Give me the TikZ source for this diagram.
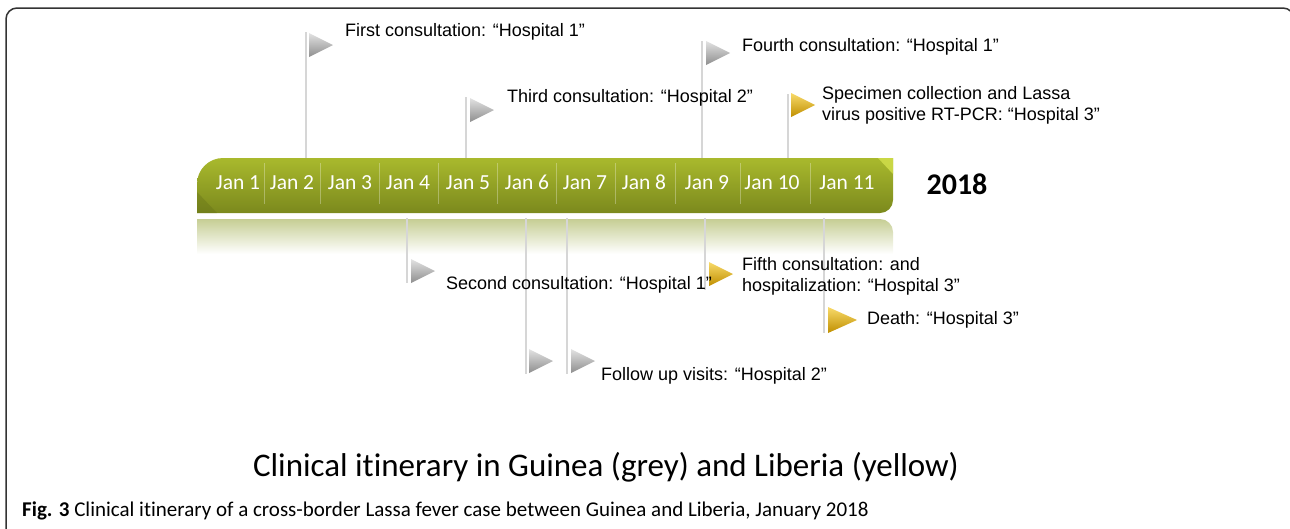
\documentclass[tikz,border=0pt]{standalone}
\usepackage{fontspec}
\setmainfont{Liberation Sans}
\newfontfamily\carlito[RawFeature={-liga,-clig,-dlig}]{Carlito}
\definecolor{bartop}{HTML}{A9B92D}
\definecolor{barbot}{HTML}{7B891D}
\definecolor{barhi}{HTML}{D3E04C}
\definecolor{reftop}{HTML}{C6CE94}
\definecolor{polec}{HTML}{D6D6D6}
\definecolor{greyL}{HTML}{E2E2E2}
\definecolor{greyD}{HTML}{8E8E8E}
\definecolor{yelL}{HTML}{F8DA6A}
\definecolor{yelD}{HTML}{C08F00}
\definecolor{framec}{HTML}{333333}
\tikzset{
  pole/.style={draw=polec, line width=1.4pt},
  lbl/.style={anchor=west, inner sep=0pt, font=\fontsize{18}{21}\selectfont, align=left},
  janlbl/.style={text=white, inner sep=0pt, anchor=base, font=\carlito\fontsize{21.5}{25}\selectfont},
  greyflag/.style={top color=greyL, bottom color=greyD},
  yelflag/.style={top color=yelL, bottom color=yelD},
  divider/.style={draw=white, opacity=0.3, line width=0.8pt}
}
\newcommand{\myflag}[3]{\shade[#3] ({#1},{#2}) -- ({#1+24},{#2+12}) -- ({#1},{#2+24}) -- cycle;}
\begin{document}
\begin{tikzpicture}[x=1pt,y=-1pt]
\useasboundingbox (0,0) rectangle (1290,528);
% frame
\draw[framec, line width=1.5pt, rounded corners=11pt] (6,570) -- (6,8) -- (1294,8) -- (1294,570);
% reflection
\shade[top color=reftop, bottom color=white] (197,219) -- (880,219) arc[start angle=-90,end angle=0,radius=13] -- (893,254) -- (197,254) -- cycle;
% bar
\shade[top color=bartop, bottom color=barbot] (197,213) -- (197,184) arc[start angle=180,end angle=270,radius=26] -- (893,158) -- (893,200) arc[start angle=0,end angle=90,radius=13] -- cycle;
\fill[barhi, opacity=0.8] (878,158) -- (893,158) -- (893,174) -- cycle;
\fill[barbot!80!black, opacity=0.35] (197,192) -- (217,213) -- (197,213) -- cycle;
% dividers
\foreach \x in {264,320,379,438,497,556,615,675,740,810}
  \draw[divider] (\x,163) -- (\x,204);
% jan labels
\node[janlbl] (j1) at (238,189) {Jan 1};
\node[janlbl] (j2) at (292,189) {Jan 2};
\node[janlbl] (j3) at (350,189) {Jan 3};
\node[janlbl] (j4) at (408,189) {Jan 4};
\node[janlbl] (j5) at (468,189) {Jan 5};
\node[janlbl] (j6) at (527,189) {Jan 6};
\node[janlbl] (j7) at (585,189) {Jan 7};
\node[janlbl] (j8) at (644,189) {Jan 8};
\node[janlbl] (j9) at (707,189) {Jan 9};
\node[janlbl] (j10) at (772,189) {Jan 10};
\node[janlbl] (j11) at (847,189) {Jan 11};
\node[inner sep=0pt, font=\carlito\bfseries\fontsize{30}{36}\selectfont] (yr) at (957,184) {2018};
% poles above
\coordinate (a1t) at (306,32);  \coordinate (a1b) at (306,158);
\coordinate (a3t) at (466,97);  \coordinate (a3b) at (466,158);
\coordinate (a4t) at (702,41);  \coordinate (a4b) at (702,158);
\coordinate (a5t) at (788,94);  \coordinate (a5b) at (788,158);
% poles below
\coordinate (b2t) at (407,218); \coordinate (b2b) at (407,283);
\coordinate (b6t) at (526,218); \coordinate (b6b) at (526,374);
\coordinate (b7t) at (567,218); \coordinate (b7b) at (567,374);
\coordinate (b9t) at (705,218); \coordinate (b9b) at (705,290);
\coordinate (b11t) at (824,218); \coordinate (b11b) at (824,333);
\foreach \p in {a1,a3,a4,a5,b2,b6,b7,b9,b11}
  \draw[pole] (\p t) -- (\p b);
% flags
\myflag{309}{33}{greyflag}
\myflag{470}{98}{greyflag}
\myflag{706}{41}{greyflag}
\myflag{791}{93}{yelflag}
\myflag{411}{259}{greyflag}
\myflag{529}{349}{greyflag}
\myflag{571}{349}{greyflag}
\myflag{709}{262}{yelflag}
\shade[yelflag] (828,307) -- (857,320) -- (828,333) -- cycle;
% labels
\node[lbl] (l1) at (345,32) {First consultation: “Hospital 1”};
\node[lbl] (l3) at (507,98) {Third consultation: “Hospital 2”};
\node[lbl] (l4) at (742,47) {Fourth consultation: “Hospital 1”};
\node[lbl] (l5) at (822,105) {Specimen collection and Lassa\\virus positive RT-PCR: “Hospital 3”};
\node[lbl] (l2) at (446,285) {Second consultation: “Hospital 1”};
\node[lbl] (l9) at (742,276) {Fifth consultation: and\\hospitalization: “Hospital 3”};
\node[lbl] (l11) at (867,320) {Death: “Hospital 3”};
\node[lbl] (l6) at (601,376) {Follow up visits: “Hospital 2”};
% title and caption
\node[inner sep=0pt, font=\carlito\fontsize{33}{39}\selectfont] (title) at (606,467) {Clinical itinerary in Guinea (grey) and Liberia (yellow)};
\node[anchor=west, inner sep=0pt, font=\carlito\fontsize{21}{25}\selectfont] (cap) at (22,511) {\textbf{Fig. 3} Clinical itinerary of a cross-border Lassa fever case between Guinea and Liberia, January 2018};
\end{tikzpicture}
\end{document}
